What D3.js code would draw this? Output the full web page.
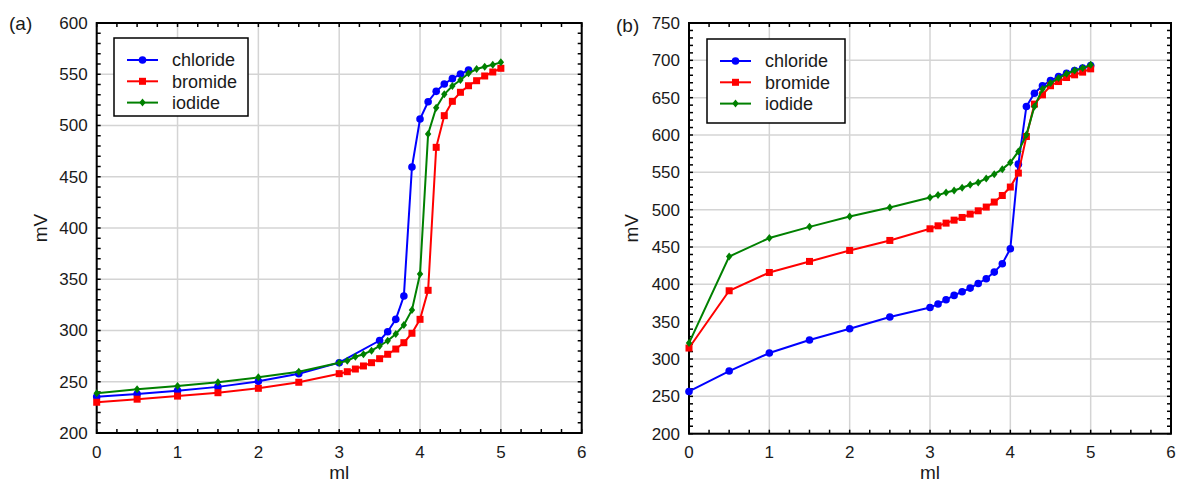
<!DOCTYPE html>
<html><head><meta charset="utf-8">
<script src="https://cdn.jsdelivr.net/npm/d3@7"></script>
<style>body{margin:0;background:#fff}svg{display:block;font-family:"Liberation Sans",Arial,sans-serif}</style>
</head><body><svg id="c" width="1178" height="483"></svg>
<script>
const seriesNames = ["chloride","bromide","iodide"];
const seriesColors = ["#0000ff","#ff0000","#008000"];
const xTicks = [0,1,2,3,4,5,6];
const yTicksA = [200,250,300,350,400,450,500,550,600];
const yTicksB = [200,250,300,350,400,450,500,550,600,650,700,750];

// Panel (a)
const aChlorideX = [0,0.5,1,1.5,2,2.5,3,3.5,3.6,3.7,3.8,3.9,4.0,4.1,4.2,4.3,4.4,4.5,4.6];
const aChlorideY = [235.4,238,241.3,245,250.4,257.9,268.6,290.2,298.8,310.9,333.7,459.5,506.3,523.2,533.3,540.5,545.7,550.2,554.1];
const aBromideX = [0,0.5,1,1.5,2,2.5,3,3.1,3.2,3.3,3.4,3.5,3.6,3.7,3.8,3.9,4.0,4.1,4.2,4.3,4.4,4.5,4.6,4.7,4.8,4.9,5.0];
const aBromideY = [230,233,236,239.3,243.6,249.5,257.9,259.8,262.4,265.4,268.6,272.5,276.8,281.9,288.1,297.3,310.9,339.2,478.7,509.6,523.6,532.4,538.8,543.7,548.3,552.2,555.8];
const aIodideX = [0,0.5,1,1.5,2,2.5,3,3.1,3.2,3.3,3.4,3.5,3.6,3.7,3.8,3.9,4.0,4.1,4.2,4.3,4.4,4.5,4.6,4.7,4.8,4.9,5.0];
const aIodideY = [238.7,242.6,245.8,249.4,254.3,259.8,268.6,270.5,274.4,276.8,280.3,284.9,290,296.6,305.4,320,355.1,491.7,517.4,530.4,538.5,544.4,550.9,555.1,557.4,559.3,561.6];

// Panel (b)
const bX = [0,0.5,1,1.5,2,2.5,3,3.1,3.2,3.3,3.4,3.5,3.6,3.7,3.8,3.9,4.0,4.1,4.2,4.3,4.4,4.5,4.6,4.7,4.8,4.9,5.0];
const bChlorideY = [256.6,283.9,308,325.4,340.6,356.2,369.1,373.6,379.4,385.2,390.1,395,401.2,407.5,416.4,427.6,447.7,561,638.2,656,665.9,673,678.3,682.8,686.3,689.6,693];
const bBromideY = [314.7,391.4,415.9,430.7,445.4,458.8,474.4,478.4,482,486,489.6,494.1,498.5,503.5,510.2,519,530.3,549,598,641.4,653.8,666,671.6,677,680.6,684.2,688.6];
const bIodideY = [321.4,437.3,462,477,490.9,503,516.4,519.5,523,525.7,529.3,533.3,536.4,541.8,547.6,554.3,563.2,578,600.3,638.2,661.5,669.5,676.2,682,686.3,689.6,694];

const svg = d3.select("#c");

function panel(cfg){
  const x = d3.scaleLinear().domain([0,6]).range(cfg.xr);
  const y = d3.scaleLinear().domain(cfg.yd).range(cfg.yr);
  const g = svg.append("g");
  // grid
  g.append("g").selectAll("line").data(xTicks).join("line")
    .attr("x1",d=>x(d)).attr("x2",d=>x(d)).attr("y1",y.range()[0]).attr("y2",y.range()[1])
    .attr("stroke","#d4d4d4").attr("stroke-width",1.5);
  g.append("g").selectAll("line").data(cfg.yt).join("line")
    .attr("y1",d=>y(d)).attr("y2",d=>y(d)).attr("x1",x.range()[0]).attr("x2",x.range()[1])
    .attr("stroke","#d4d4d4").attr("stroke-width",1.5);
  // minor ticks inward
  const xm = d3.range(0,6.001,0.25);
  const ym = d3.range(cfg.yd[0],cfg.yd[1]+0.001,10);
  const tl = 4;
  const tk = g.append("g").attr("stroke","#000").attr("stroke-width",1.5);
  xm.forEach(v=>{
    tk.append("line").attr("x1",x(v)).attr("x2",x(v)).attr("y1",y.range()[0]).attr("y2",y.range()[0]-tl);
    tk.append("line").attr("x1",x(v)).attr("x2",x(v)).attr("y1",y.range()[1]).attr("y2",y.range()[1]+tl);
  });
  ym.forEach(v=>{
    tk.append("line").attr("y1",y(v)).attr("y2",y(v)).attr("x1",x.range()[0]).attr("x2",x.range()[0]+tl);
    tk.append("line").attr("y1",y(v)).attr("y2",y(v)).attr("x1",x.range()[1]).attr("x2",x.range()[1]-tl);
  });
  // frame
  g.append("rect").attr("x",x.range()[0]).attr("y",y.range()[1])
    .attr("width",x.range()[1]-x.range()[0]).attr("height",y.range()[0]-y.range()[1])
    .attr("fill","none").attr("stroke","#000").attr("stroke-width",2);
  // tick labels
  g.append("g").selectAll("text").data(xTicks).join("text")
    .attr("x",d=>x(d)).attr("y",y.range()[0]+24.5).attr("text-anchor","middle")
    .attr("font-size",17).attr("fill","#1a1a1a").text(d=>d);
  g.append("g").selectAll("text").data(cfg.yt).join("text")
    .attr("x",x.range()[0]-9).attr("y",d=>y(d)).attr("dy","0.35em").attr("text-anchor","end")
    .attr("font-size",17).attr("fill","#1a1a1a").text(d=>d);
  // axis titles
  g.append("text").attr("x",(x.range()[0]+x.range()[1])/2).attr("y",479).attr("text-anchor","middle")
    .attr("font-size",19).attr("fill","#1a1a1a").text("ml");
  g.append("text").attr("transform",`translate(${cfg.mvx},${(y.range()[0]+y.range()[1])/2}) rotate(-90)`)
    .attr("text-anchor","middle").attr("dy","0.35em").attr("font-size",19).attr("fill","#1a1a1a").text("mV");
  g.append("text").attr("x",cfg.lx).attr("y",cfg.ly).attr("dy","0.35em")
    .attr("font-size",19).attr("fill","#1a1a1a").text(cfg.label);
  // series
  const line = d3.line().x(d=>x(d[0])).y(d=>y(d[1]));
  cfg.series.forEach((s,i)=>{
    const pts = s.xs.map((v,j)=>[v,s.ys[j]]);
    g.append("path").datum(pts).attr("d",line).attr("fill","none")
      .attr("stroke",seriesColors[i]).attr("stroke-width",2);
    drawMarkers(g, pts.map(p=>[x(p[0]),y(p[1])]), i);
  });
  // legend
  const L = cfg.leg;
  const lg = g.append("g");
  lg.append("rect").attr("x",L.x).attr("y",L.y).attr("width",L.w).attr("height",L.h)
    .attr("fill","#fff").attr("stroke","#000").attr("stroke-width",1.5);
  seriesNames.forEach((n,i)=>{
    const cy = L.y + 22 + i*21.3;
    lg.append("line").attr("x1",L.x+13).attr("x2",L.x+44).attr("y1",cy).attr("y2",cy)
      .attr("stroke",seriesColors[i]).attr("stroke-width",2);
    drawMarkers(lg, [[L.x+28.5,cy]], i);
    lg.append("text").attr("x",L.x+58).attr("y",cy).attr("dy","0.35em")
      .attr("font-size",18).attr("fill","#1a1a1a").text(n);
  });
}

function drawMarkers(g, pts, i){
  const c = seriesColors[i];
  if(i===0){
    g.append("g").selectAll("circle").data(pts).join("circle")
      .attr("cx",d=>d[0]).attr("cy",d=>d[1]).attr("r",3.8).attr("fill",c);
  } else if(i===1){
    g.append("g").selectAll("rect").data(pts).join("rect")
      .attr("x",d=>d[0]-3.5).attr("y",d=>d[1]-3.5).attr("width",7).attr("height",7).attr("fill",c);
  } else {
    g.append("g").selectAll("path").data(pts).join("path")
      .attr("d",d=>`M${d[0]},${d[1]-4}L${d[0]+3.2},${d[1]}L${d[0]},${d[1]+4}L${d[0]-3.2},${d[1]}Z`).attr("fill",c);
  }
}

panel({xr:[96.7,581.7], yd:[200,600], yr:[433,23], yt:yTicksA, mvx:40, lx:9, ly:23, label:"(a)",
  leg:{x:114,y:38,w:134,h:78},
  series:[{xs:aChlorideX,ys:aChlorideY},{xs:aBromideX,ys:aBromideY},{xs:aIodideX,ys:aIodideY}]});
panel({xr:[689,1171], yd:[200,750], yr:[433.7,23], yt:yTicksB, mvx:631, lx:616, ly:25, label:"(b)",
  leg:{x:707,y:39,w:138,h:84},
  series:[{xs:bX,ys:bChlorideY},{xs:bX,ys:bBromideY},{xs:bX,ys:bIodideY}]});
</script></body></html>
